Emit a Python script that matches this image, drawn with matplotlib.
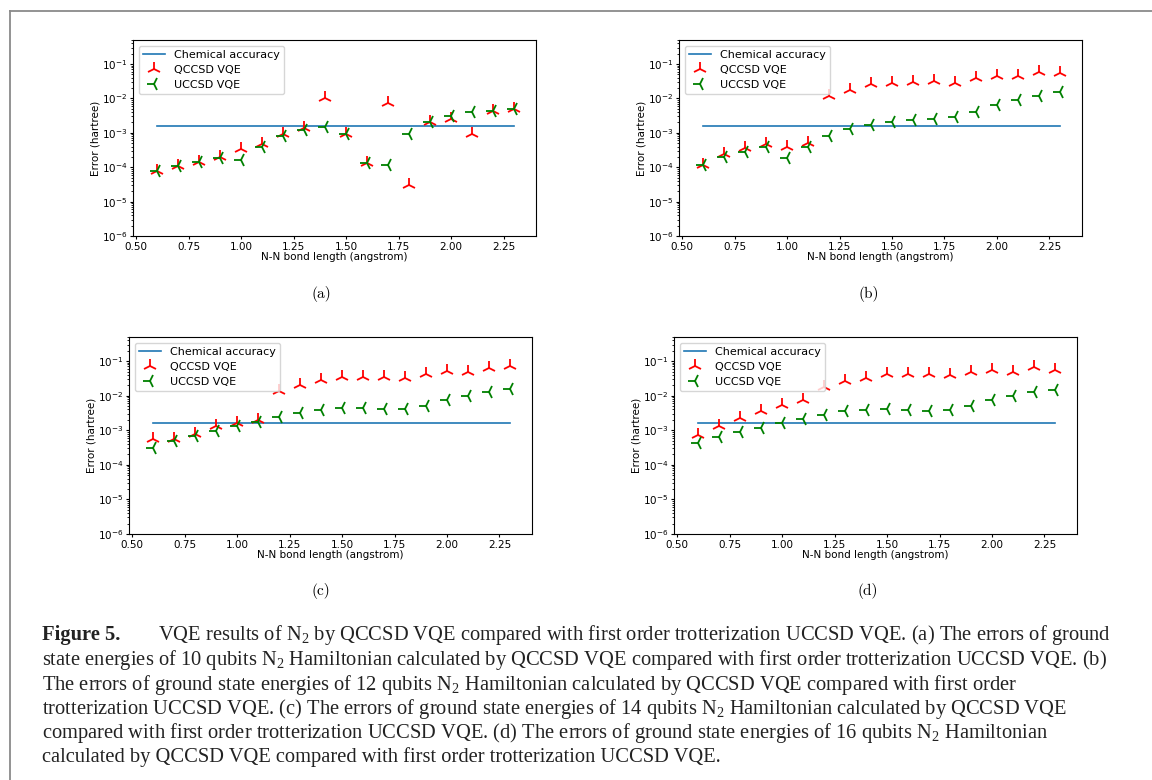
import matplotlib
matplotlib.use('Agg')
import matplotlib.pyplot as plt

# bond lengths (angstrom)
bond_length = [0.6, 0.7, 0.8, 0.9, 1.0, 1.1, 1.2, 1.3, 1.4, 1.5,
               1.6, 1.7, 1.8, 1.9, 2.0, 2.1, 2.2, 2.3]

chem_acc = 1.6e-3

# (a) 10 qubits
qccsd_10 = [8e-5, 1.1e-4, 1.45e-4, 1.95e-4, 3.5e-4, 4.7e-4, 9.5e-4, 1.35e-3, 1.05e-2, 9.5e-4,
            1.3e-4, 7.2e-3, 3e-5, 2.0e-3, 2.5e-3, 9e-4, 4.2e-3, 4.8e-3]
uccsd_10 = [8e-5, 1.1e-4, 1.45e-4, 1.85e-4, 1.65e-4, 3.9e-4, 8.2e-4, 1.25e-3, 1.5e-3, 9e-4,
            1.3e-4, 1.15e-4, 9e-4, 2.1e-3, 3.1e-3, 4.0e-3, 4.4e-3, 4.8e-3]

# (b) 12 qubits
qccsd_12 = [1.2e-4, 2.5e-4, 3.6e-4, 4.8e-4, 3.9e-4, 5.1e-4, 1.2e-2, 1.8e-2, 2.6e-2, 2.9e-2,
            3.1e-2, 3.3e-2, 2.9e-2, 4.0e-2, 4.5e-2, 4.5e-2, 6.0e-2, 5.4e-2]
uccsd_12 = [1.2e-4, 1.95e-4, 2.7e-4, 3.8e-4, 1.85e-4, 3.9e-4, 7.9e-4, 1.26e-3, 1.7e-3, 2.0e-3,
            2.3e-3, 2.5e-3, 2.8e-3, 4.1e-3, 6.3e-3, 9.1e-3, 1.2e-2, 1.5e-2]

# (c) 14 qubits
qccsd_14 = [5.6e-4, 5.5e-4, 7.9e-4, 1.3e-3, 1.65e-3, 2.0e-3, 1.4e-2, 2.0e-2, 2.8e-2, 3.4e-2,
            3.4e-2, 3.4e-2, 3.2e-2, 4.3e-2, 5.2e-2, 5.0e-2, 6.4e-2, 7.4e-2]
uccsd_14 = [3.1e-4, 4.8e-4, 6.7e-4, 9.3e-4, 1.3e-3, 1.7e-3, 2.4e-3, 3.1e-3, 3.9e-3, 4.3e-3,
            4.3e-3, 4.1e-3, 4.1e-3, 5.0e-3, 7.4e-3, 1.0e-2, 1.3e-2, 1.55e-2]

# (d) 16 qubits
qccsd_16 = [7.2e-4, 1.3e-3, 2.2e-3, 3.6e-3, 5.5e-3, 7.6e-3, 1.75e-2, 2.6e-2, 3.3e-2, 4.2e-2,
            4.2e-2, 4.2e-2, 3.9e-2, 5.0e-2, 5.4e-2, 5.0e-2, 6.7e-2, 5.7e-2]
uccsd_16 = [4.2e-4, 6.3e-4, 9.1e-4, 1.2e-3, 1.6e-3, 2.1e-3, 2.8e-3, 3.5e-3, 3.9e-3, 4.2e-3,
            3.9e-3, 3.7e-3, 3.9e-3, 5.1e-3, 7.3e-3, 1.0e-2, 1.3e-2, 1.5e-2]

panels = [('(a)', qccsd_10, uccsd_10), ('(b)', qccsd_12, uccsd_12),
          ('(c)', qccsd_14, uccsd_14), ('(d)', qccsd_16, uccsd_16)]

# axes boxes in figure fraction [left, bottom, width, height]
boxes = [[0.1155, 0.6974, 0.3499, 0.2513], [0.5894, 0.6974, 0.3498, 0.2513],
         [0.1120, 0.3154, 0.3498, 0.2526], [0.5851, 0.3154, 0.3498, 0.2526]]
label_pos = [(0.2787, 0.623), (0.7543, 0.623), (0.2787, 0.242), (0.7535, 0.242)]

fig = plt.figure(figsize=(11.52, 7.8), dpi=100)

for (name, q, u), box, lp in zip(panels, boxes, label_pos):
    ax = fig.add_axes(box)
    ax.plot([bond_length[0], bond_length[-1]], [chem_acc, chem_acc],
            color='#1f77b4', lw=1.2, label='Chemical accuracy')
    ax.plot(bond_length, q, '2', color='r', ms=10, mew=1.3, linestyle='none', label='QCCSD VQE')
    ax.plot(bond_length, u, '3', color='g', ms=10, mew=1.3, linestyle='none', label='UCCSD VQE')
    ax.set_yscale('log')
    ax.set_ylim(1e-6, 0.5)
    ax.set_xlim(0.485, 2.405)
    ax.set_xticks([0.5, 0.75, 1.0, 1.25, 1.5, 1.75, 2.0, 2.25])
    ax.set_xticklabels(['0.50', '0.75', '1.00', '1.25', '1.50', '1.75', '2.00', '2.25'])
    ax.tick_params(labelsize=7.5, length=2.5, pad=1.5)
    ax.tick_params(which='minor', length=1.5)
    ax.set_xlabel('N-N bond length (angstrom)', fontsize=7.5, labelpad=0.5)
    ax.set_ylabel('Error (hartree)', fontsize=7.5, labelpad=1)
    ax.legend(loc='upper left', fontsize=8, borderpad=0.4, labelspacing=0.45,
              handlelength=2.0, borderaxespad=0.5, framealpha=0.8)
    fig.text(lp[0], lp[1], name, fontsize=11, family='cmr10', ha='center', va='center')

# gray frame lines (top and left)
fig.add_artist(plt.Line2D([10 / 1152, 1.0], [1 - 11 / 780, 1 - 11 / 780], color='#8a8a8a', lw=1.3))
fig.add_artist(plt.Line2D([10 / 1152, 10 / 1152], [0.0, 1 - 11 / 780], color='#8a8a8a', lw=1.3))

# caption
plt.rcParams['mathtext.fontset'] = 'custom'
plt.rcParams['mathtext.rm'] = 'Liberation Serif'
plt.rcParams['mathtext.it'] = 'Liberation Serif:italic'

cap_lines = [
    'VQE results of N$_2$ by QCCSD VQE compared with first order trotterization UCCSD VQE. (a) The errors of ground',
    'state energies of 10 qubits N$_2$ Hamiltonian calculated by QCCSD VQE compared with first order trotterization UCCSD VQE. (b)',
    'The errors of ground state energies of 12 qubits N$_2$ Hamiltonian calculated by QCCSD VQE compared with first order',
    'trotterization UCCSD VQE. (c) The errors of ground state energies of 14 qubits N$_2$ Hamiltonian calculated by QCCSD VQE',
    'compared with first order trotterization UCCSD VQE. (d) The errors of ground state energies of 16 qubits N$_2$ Hamiltonian',
    'calculated by QCCSD VQE compared with first order trotterization UCCSD VQE.',
]
cap_y = [635, 660, 685, 709, 733, 757]
cap_font = 'Liberation Serif'
cap_size = 14.8

fig.text(42 / 1152, 1 - cap_y[0] / 780, 'Figure 5.', fontsize=cap_size, family=cap_font,
         weight='bold', va='center', color='#222222')
for i, (line, y) in enumerate(zip(cap_lines, cap_y)):
    x0 = 158 if i == 0 else 42
    fig.text(x0 / 1152, 1 - y / 780, line, fontsize=cap_size, family=cap_font,
             va='center', color='#222222')

fig.savefig('out.png', dpi=100)
